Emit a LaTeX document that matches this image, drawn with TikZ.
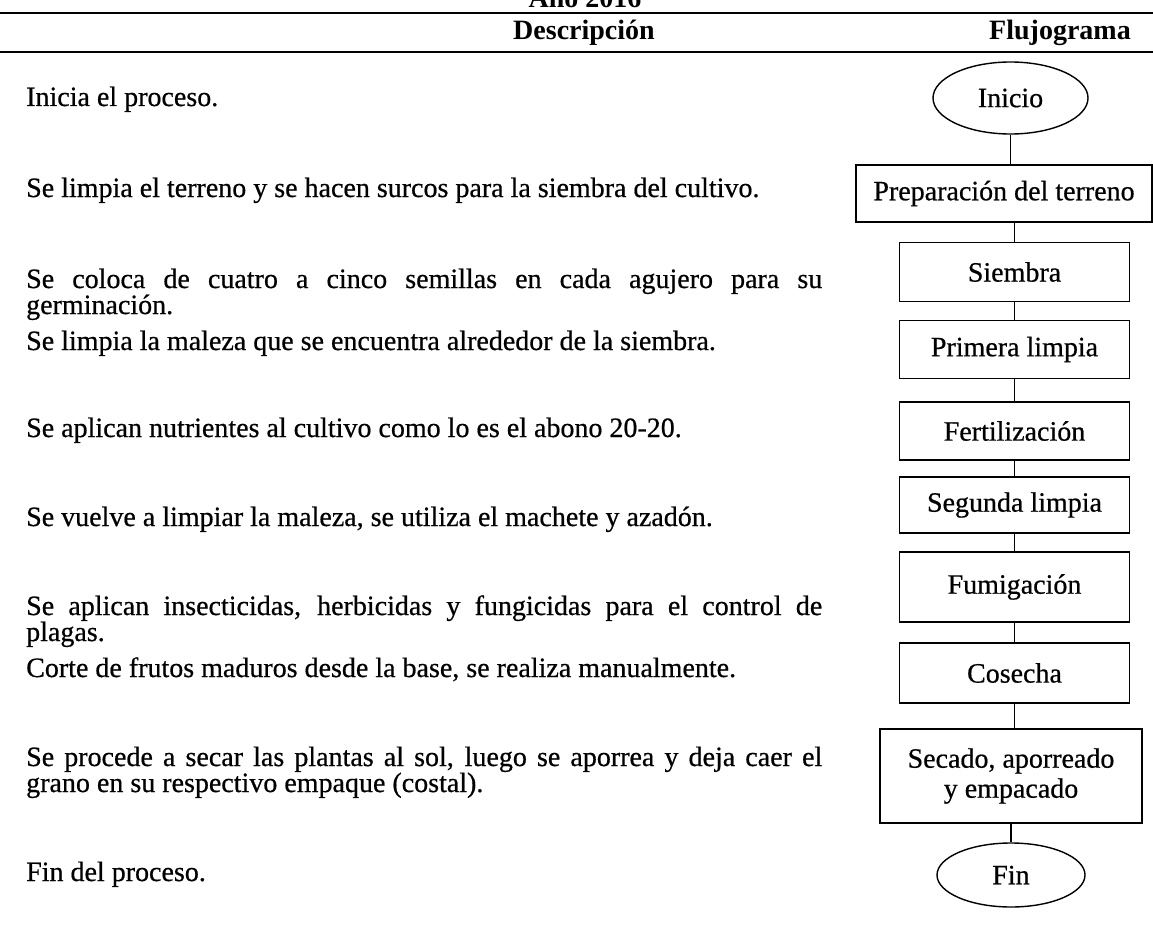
\documentclass[tikz,border=0pt]{standalone}
\usepackage{fontspec}
\setmainfont{Liberation Serif}
\newfontfamily\scanfont{Liberation Serif}[FakeBold=0.6]
\usetikzlibrary{shapes.geometric}
\tikzset{
  desc/.style={anchor=base west, inner sep=0pt, font=\scanfont\fontsize{28}{31}\selectfont},
  hdr/.style={anchor=base, inner sep=0pt, font=\bfseries\fontsize{28}{31}\selectfont},
  stepbox/.style={draw, line width=1.4pt, inner sep=0pt, minimum width=230pt, align=center, font=\scanfont\fontsize{28}{30}\selectfont},
  term/.style={ellipse, draw, line width=1.4pt, inner sep=0pt, font=\scanfont\fontsize{28}{31}\selectfont},
  conn/.style={line width=1.4pt},
  tablerule/.style={line width=2pt}
}
\begin{document}
\begin{tikzpicture}[x=1pt, y=-1pt]
\useasboundingbox (0,0) rectangle (1153,944);
\clip (0,0) rectangle (1153,944);
% header
\node[hdr] (anio) at (585,8) {Año 2016};
\draw[tablerule] (0,13) -- (1153,13);
\node[hdr] (hdesc) at (584,40) {Descripción};
\node[hdr] (hflujo) at (1060,40) {Flujograma};
\draw[tablerule] (0,52) -- (1153,52);
% descriptions
\node[desc] (d1) at (26,106) {Inicia el proceso.};
\node[desc] (d2) at (26,197) {Se limpia el terreno y se hacen surcos para la siembra del cultivo.};
\node[desc] (d3a) at (26,288) {\makebox[796pt][s]{Se coloca de cuatro a cinco semillas en cada agujero para su}};
\node[desc] (d3b) at (26,314) {germinación.};
\node[desc] (d4) at (26,350) {Se limpia la maleza que se encuentra alrededor de la siembra.};
\node[desc] (d5) at (26,437) {Se aplican nutrientes al cultivo como lo es el abono 20-20.};
\node[desc] (d6) at (26,526) {Se vuelve a limpiar la maleza, se utiliza el machete y azadón.};
\node[desc] (d7a) at (26,615) {\makebox[796pt][s]{Se aplican insecticidas, herbicidas y fungicidas para el control de}};
\node[desc] (d7b) at (26,641) {plagas.};
\node[desc] (d8) at (26,677) {Corte de frutos maduros desde la base, se realiza manualmente.};
\node[desc] (d9a) at (26,766) {\makebox[796pt][s]{Se procede a secar las plantas al sol, luego se aporrea y deja caer el}};
\node[desc] (d9b) at (26,792) {grano en su respectivo empaque (costal).};
\node[desc] (d10) at (26,881) {Fin del proceso.};
% flowchart
\node[term, minimum width=155pt, minimum height=72pt] (ini) at (1010.5,98) {Inicio};
\node[stepbox, minimum width=296pt, minimum height=57pt] (prep) at (1004,193.5) {Preparación del terreno};
\node[stepbox, minimum height=59pt] (siem) at (1014.5,272) {Siembra};
\node[stepbox, minimum height=58pt] (prim) at (1014.5,349.5) {Primera limpia};
\node[stepbox, minimum height=58pt] (fert) at (1014.5,431) {Fertilización};
\node[stepbox, minimum height=56pt] (segu) at (1014.5,505) {Segunda limpia};
\node[stepbox, minimum height=70pt] (fumi) at (1014.5,587) {Fumigación};
\node[stepbox, minimum height=60pt] (cose) at (1014.5,673) {Cosecha};
\node[stepbox, minimum width=262pt, minimum height=94pt] (seca) at (1011,776) {Secado, aporreado\\y empacado};
\node[term, minimum width=148pt, minimum height=64pt] (fin) at (1011,875) {Fin};
\draw[conn] (ini.south) -- (ini.south |- prep.north);
\draw[conn] (prep.south -| siem) -- (siem.north);
\draw[conn] (siem.south) -- (prim.north);
\draw[conn] (prim.south) -- (fert.north);
\draw[conn] (fert.south) -- (segu.north);
\draw[conn] (segu.south) -- (fumi.north);
\draw[conn] (fumi.south) -- (cose.north);
\draw[conn] (cose.south) -- (cose.south |- seca.north);
\draw[conn] (seca.south) -- (fin.north);
\end{tikzpicture}
\end{document}
